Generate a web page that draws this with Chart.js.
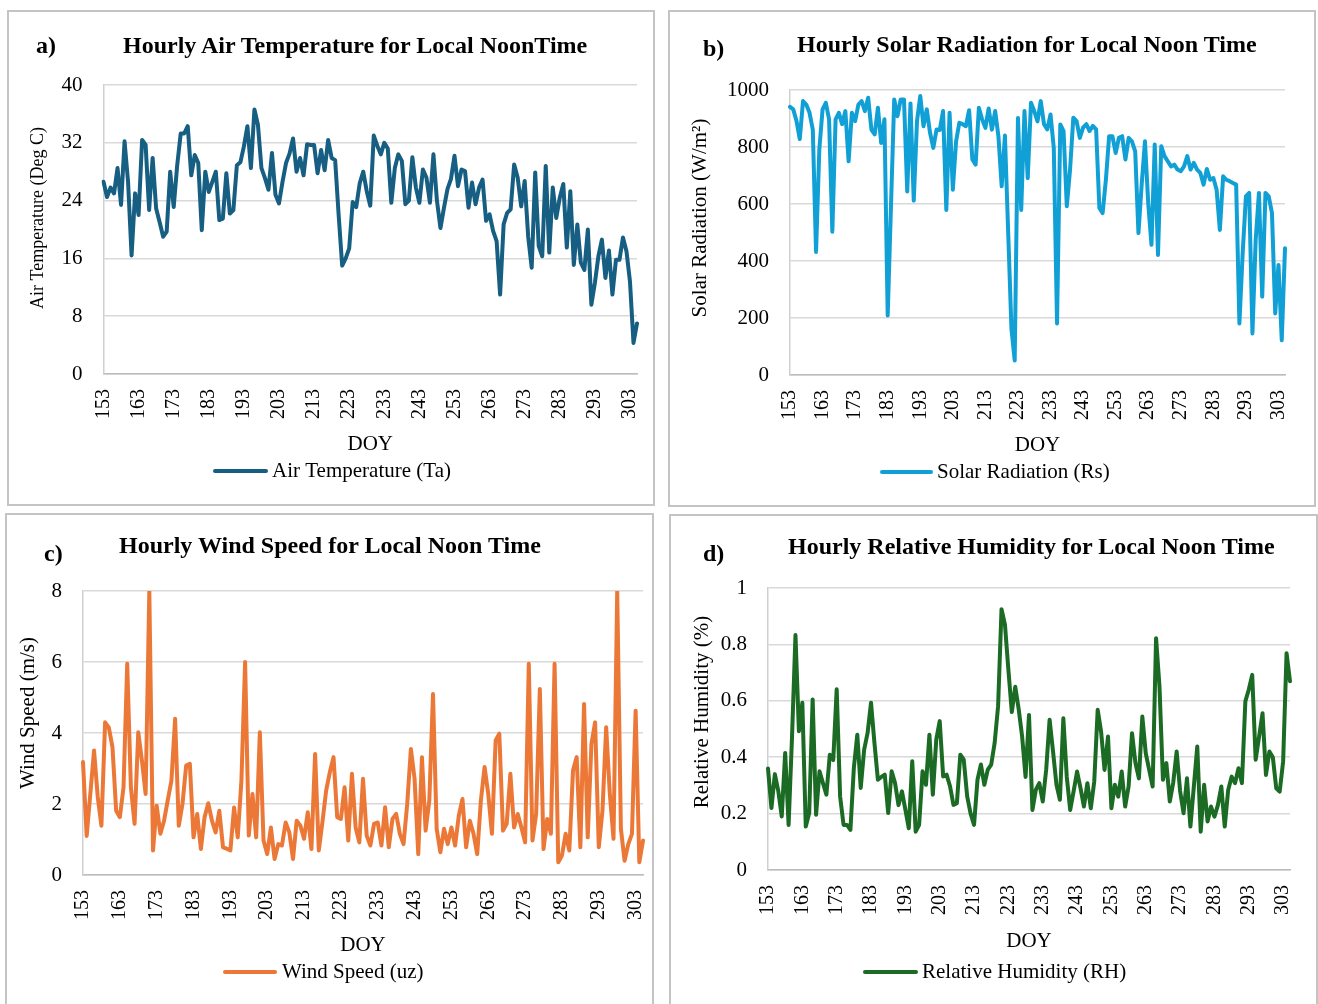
<!DOCTYPE html>
<html>
<head>
<meta charset="utf-8">
<title>Hourly weather at local noon, DOY 153–305</title>
<script src="https://cdn.jsdelivr.net/npm/chart.js@4.4.1/dist/chart.umd.min.js"></script>
<style>
  html, body { margin: 0; padding: 0; background: #ffffff; width: 1318px; height: 1004px; overflow: hidden; }
  .frame { position: absolute; box-sizing: border-box; border: 2px solid #c4c4c4; }
  .plot { position: absolute; }
  .head { position: absolute; font-family: "Liberation Serif", "Times New Roman", serif; font-weight: bold;
          font-size: 24px; line-height: 24px; white-space: nowrap; color: #000; }
</style>
</head>
<body>
<script>
// Day of year, one noon reading per day
const doy = Array.from({ length: 153 }, (_, i) => 153 + i);

// Air temperature (deg C)
const airTemp = [
  26.6, 24.5, 25.8, 25.0, 28.5, 23.4, 32.2, 26.6, 16.4, 25.0,
  22.0, 32.4, 31.7, 22.7, 29.9, 22.9, 21.0, 19.0, 19.7, 28.0,
  23.1, 28.9, 33.3, 33.3, 34.3, 27.5, 30.3, 29.2, 19.9, 28.0,
  25.2, 26.6, 28.0, 21.3, 21.5, 27.8, 22.2, 22.7, 28.9, 29.3,
  31.5, 34.3, 28.5, 36.6, 34.5, 28.5, 27.1, 25.5, 30.6, 24.8,
  23.6, 26.6, 29.2, 30.5, 32.6, 28.0, 29.9, 27.5, 31.8, 31.7,
  31.7, 27.8, 31.0, 28.2, 32.4, 29.9, 29.6, 22.0, 15.0, 16.0,
  17.4, 23.8, 23.1, 26.4, 28.0, 25.3, 23.3, 33.0, 31.6, 30.4,
  32.0, 31.2, 23.7, 28.5, 30.4, 29.5, 23.5, 24.0, 30.0, 25.8,
  23.7, 28.3, 27.2, 23.7, 30.4, 24.0, 20.2, 23.0, 25.6, 27.0,
  30.2, 26.0, 28.3, 28.1, 23.0, 26.5, 23.5, 25.8, 26.9, 21.2,
  22.1, 19.8, 18.4, 11.0, 20.7, 22.3, 22.8, 29.0, 27.2, 23.2,
  26.7, 19.0, 14.7, 27.9, 17.7, 16.3, 28.8, 16.8, 25.8, 21.6,
  24.4, 26.3, 17.5, 25.3, 15.1, 20.7, 15.4, 14.4, 20.0, 9.6,
  12.6, 16.3, 18.6, 13.3, 17.1, 11.0, 15.8, 15.8, 18.9, 17.0,
  12.8, 4.3, 7.0
];

// Solar radiation (W/m2)
const solarRad = [
  941, 932, 891, 828, 961, 949, 920, 861, 432, 791,
  932, 955, 897, 503, 897, 920, 880, 926, 750, 920,
  891, 949, 961, 926, 973, 861, 844, 938, 814, 897,
  209, 590, 967, 908, 967, 967, 644, 953, 612, 891,
  979, 873, 932, 850, 797, 861, 860, 926, 579, 920,
  650, 820, 885, 880, 873, 929, 756, 738, 938, 897,
  867, 935, 861, 926, 838, 662, 840, 500, 162, 51,
  902, 579, 926, 691, 955, 926, 890, 961, 880, 862,
  914, 797, 181, 879, 856, 592, 721, 903, 891, 832,
  868, 880, 856, 874, 862, 586, 568, 685, 838, 838,
  779, 832, 838, 756, 832, 820, 785, 498, 670, 820,
  603, 457, 809, 421, 803, 768, 750, 732, 738, 721,
  715, 732, 768, 721, 744, 721, 709, 668, 723, 685,
  691, 650, 509, 697, 685, 680, 674, 668, 181, 427,
  627, 639, 146, 474, 639, 275, 639, 627, 568, 216,
  386, 122, 445
];

// Wind speed (m/s)
const windSpeed = [
  3.18, 1.10, 2.30, 3.51, 2.20, 1.39, 4.30, 4.16, 3.60, 1.81,
  1.63, 2.47, 5.95, 2.47, 1.44, 4.02, 3.22, 2.28, 8.00, 0.69,
  1.95, 1.16, 1.53, 2.10, 2.66, 4.40, 1.39, 2.00, 3.08, 3.13,
  1.06, 1.72, 0.73, 1.63, 2.02, 1.53, 1.20, 1.81, 0.78, 0.74,
  0.69, 1.90, 1.06, 2.66, 6.00, 1.11, 2.28, 1.06, 4.02, 0.97,
  0.59, 1.34, 0.45, 0.87, 0.83, 1.48, 1.20, 0.45, 1.53, 1.39,
  1.02, 1.77, 0.73, 3.41, 0.69, 1.50, 2.38, 2.90, 3.32, 1.63,
  1.58, 2.47, 0.97, 2.85, 1.34, 0.92, 2.71, 1.11, 0.83, 1.44,
  1.48, 0.83, 1.91, 0.78, 1.58, 1.72, 1.16, 0.87, 2.00, 3.55,
  2.71, 0.59, 3.32, 1.25, 2.10, 5.10, 1.30, 0.64, 1.30, 0.87,
  1.34, 0.83, 1.67, 2.14, 0.78, 1.53, 1.16, 0.59, 2.10, 3.04,
  2.28, 1.16, 3.79, 3.98, 1.25, 1.44, 2.85, 1.34, 1.72, 1.34,
  0.92, 5.95, 0.97, 1.72, 5.24, 0.73, 1.58, 1.16, 5.95, 0.36,
  0.55, 1.16, 0.69, 2.94, 3.32, 0.78, 4.82, 1.06, 3.69, 4.30,
  0.78, 1.81, 4.16, 2.28, 1.02, 8.00, 1.30, 0.40, 0.87, 1.16,
  4.63, 0.36, 0.97
];

// Relative humidity (fraction)
const relHumidity = [
  0.360, 0.220, 0.340, 0.280, 0.190, 0.415, 0.160, 0.474, 0.833, 0.492,
  0.593, 0.154, 0.202, 0.605, 0.196, 0.350, 0.308, 0.267, 0.409, 0.390,
  0.641, 0.261, 0.160, 0.160, 0.142, 0.362, 0.480, 0.291, 0.427, 0.486,
  0.593, 0.450, 0.320, 0.330, 0.338, 0.202, 0.350, 0.308, 0.230, 0.279,
  0.214, 0.148, 0.386, 0.136, 0.160, 0.350, 0.302, 0.480, 0.267, 0.463,
  0.528, 0.332, 0.338, 0.297, 0.231, 0.237, 0.409, 0.391, 0.261, 0.200,
  0.160, 0.320, 0.374, 0.302, 0.356, 0.374, 0.451, 0.581, 0.925, 0.870,
  0.710, 0.560, 0.650, 0.570, 0.473, 0.330, 0.550, 0.213, 0.285, 0.308,
  0.243, 0.355, 0.533, 0.420, 0.302, 0.249, 0.538, 0.330, 0.213, 0.280,
  0.349, 0.290, 0.225, 0.308, 0.219, 0.314, 0.568, 0.490, 0.355, 0.473,
  0.219, 0.302, 0.260, 0.349, 0.225, 0.296, 0.485, 0.379, 0.325, 0.544,
  0.414, 0.355, 0.296, 0.822, 0.650, 0.320, 0.379, 0.243, 0.310, 0.420,
  0.280, 0.201, 0.325, 0.154, 0.296, 0.438, 0.136, 0.302, 0.172, 0.225,
  0.189, 0.230, 0.296, 0.154, 0.284, 0.331, 0.308, 0.361, 0.308, 0.598,
  0.640, 0.692, 0.391, 0.473, 0.556, 0.337, 0.420, 0.400, 0.290, 0.278,
  0.385, 0.769, 0.669
];

// Value-axis tick labels
const tempTicks = [0, 8, 16, 24, 32, 40];
const solarTicks = [0, 200, 400, 600, 800, 1000];
const windTicks = [0, 2, 4, 6, 8];
const humidityTicks = [0, 0.2, 0.4, 0.6, 0.8, 1];

const SERIF = '"Liberation Serif", "Times New Roman", serif';

// Vertical axis title and the line-swatch legend, placed in page coordinates
const panelText = {
  id: 'panelText',
  afterDraw(chart, args, o) {
    const ctx = chart.ctx;
    const ds = chart.data.datasets[0];
    ctx.save();
    ctx.translate(-o.ox, -o.oy);

    ctx.save();
    ctx.translate(o.yTitleX, o.yTitleY);
    ctx.rotate(-Math.PI / 2);
    ctx.fillStyle = '#000';
    ctx.font = o.yTitleSize + 'px ' + SERIF;
    ctx.textAlign = 'center';
    ctx.textBaseline = 'middle';
    ctx.fillText(o.yTitle, 0, 0);
    ctx.restore();

    ctx.strokeStyle = ds.borderColor;
    ctx.lineWidth = 4;
    ctx.lineCap = 'round';
    ctx.beginPath();
    ctx.moveTo(o.lineX0, o.legendY);
    ctx.lineTo(o.lineX1, o.legendY);
    ctx.stroke();

    ctx.fillStyle = '#000';
    ctx.font = '21px ' + SERIF;
    ctx.textAlign = 'left';
    ctx.textBaseline = 'middle';
    ctx.fillText(ds.label, o.textX, o.legendY);
    ctx.restore();
  }
};

function addFrame(x0, y0, x1, y1) {
  const d = document.createElement('div');
  d.className = 'frame';
  Object.assign(d.style, { left: x0 + 'px', top: y0 + 'px', width: (x1 - x0) + 'px', height: (y1 - y0) + 'px' });
  document.body.appendChild(d);
}

function addHead(text, x, baseline) {
  const d = document.createElement('div');
  d.className = 'head';
  d.textContent = text;
  d.style.left = x + 'px';
  d.style.top = (baseline - 20) + 'px';
  document.body.appendChild(d);
}

function addPanel(p) {
  const cv = document.createElement('canvas');
  cv.className = 'plot';
  const [cx0, cy0, cx1, cy1] = p.canvas;
  const w = cx1 - cx0, h = cy1 - cy0;
  cv.width = w; cv.height = h;
  Object.assign(cv.style, { left: cx0 + 'px', top: cy0 + 'px', width: w + 'px', height: h + 'px' });
  document.body.appendChild(cv);

  const [pl, pt, pr, pb] = p.area;
  const xAxisH = p.doyY + 12.6 - pb;

  new Chart(cv, {
    type: 'line',
    data: {
      labels: doy,
      datasets: [{
        label: p.label,
        data: p.values,
        borderColor: p.color,
        backgroundColor: p.color,
        borderWidth: 4,
        pointRadius: 0,
        tension: 0,
        borderJoinStyle: 'round',
        borderCapStyle: 'round'
      }]
    },
    options: {
      responsive: false,
      animation: false,
      devicePixelRatio: 1,
      layout: {
        padding: { left: 0, top: pt - cy0, right: cx1 - pr, bottom: cy1 - (pb + xAxisH) }
      },
      plugins: {
        legend: { display: false },
        tooltip: { enabled: false },
        panelText: Object.assign({ ox: cx0, oy: cy0 }, p.text)
      },
      scales: {
        x: {
          type: 'category',
          offset: false,
          grid: { display: false, drawTicks: false },
          border: { display: true, color: '#bcbcbc', width: 1.5 },
          ticks: {
            autoSkip: false,
            minRotation: 90,
            maxRotation: 90,
            padding: 15,
            color: '#000',
            font: { family: SERIF, size: 20 },
            callback: function (v, i) { return (doy[i] - doy[0]) % 10 === 0 ? String(doy[i]) : ''; }
          },
          title: {
            display: true, text: 'DOY', color: '#000',
            font: { family: SERIF, size: 21, lineHeight: 1.2 },
            padding: { top: 0, bottom: 0 }
          },
          afterFit: s => { s.height = xAxisH; }
        },
        y: {
          min: p.ticks[0],
          max: p.ticks[p.ticks.length - 1],
          afterBuildTicks: s => { s.ticks = p.ticks.map(v => ({ value: v })); },
          grid: { color: '#d9d9d9', lineWidth: 1.5, drawTicks: false },
          border: { display: true, color: '#d0d0d0', width: 1.5 },
          ticks: {
            padding: 21,
            color: '#000',
            font: { family: SERIF, size: 21 },
            callback: v => String(v)
          },
          afterFit: s => { s.width = pl - cx0; }
        }
      }
    },
    plugins: [panelText]
  });
}

// a) air temperature
addFrame(7, 10, 655, 506);
addPanel({
  canvas: [20, 10, 678, 506], area: [103.5, 85, 637, 374], doyY: 444,
  values: airTemp, ticks: tempTicks, color: '#165e82', label: 'Air Temperature (Ta)',
  text: { yTitle: 'Air Temperature (Deg C)', yTitleSize: 18, yTitleX: 38, yTitleY: 218,
          lineX0: 215, lineX1: 266, textX: 272, legendY: 471 }
});
addHead('a)', 36, 53);
addHead('Hourly Air Temperature for Local NoonTime', 123, 53);

// b) solar radiation
addFrame(668, 10, 1316, 507);
addPanel({
  canvas: [680, 10, 1326, 507], area: [790, 90, 1285, 375], doyY: 445,
  values: solarRad, ticks: solarTicks, color: '#10a0d6', label: 'Solar Radiation (Rs)',
  text: { yTitle: 'Solar Radiation (W/m²)', yTitleSize: 21, yTitleX: 700, yTitleY: 218,
          lineX0: 882, lineX1: 931, textX: 937, legendY: 472 }
});
addHead('b)', 703, 56);
addHead('Hourly Solar Radiation for Local Noon Time', 797, 52);

// c) wind speed
addFrame(5, 513, 654, 1010);
addPanel({
  canvas: [8, 513, 684, 1004], area: [83, 591, 643, 875], doyY: 945,
  values: windSpeed, ticks: windTicks, color: '#eb7837', label: 'Wind Speed (uz)',
  text: { yTitle: 'Wind Speed (m/s)', yTitleSize: 21, yTitleX: 28, yTitleY: 713,
          lineX0: 225, lineX1: 275, textX: 282, legendY: 972 }
});
addHead('c)', 44, 561);
addHead('Hourly Wind Speed for Local Noon Time', 119, 553);

// d) relative humidity
addFrame(669, 514, 1318, 1010);
addPanel({
  canvas: [684, 514, 1331, 1004], area: [768, 588, 1290, 870], doyY: 941,
  values: relHumidity, ticks: humidityTicks, color: '#1b6b24', label: 'Relative Humidity (RH)',
  text: { yTitle: 'Relative Humidity (%)', yTitleSize: 21, yTitleX: 702, yTitleY: 712,
          lineX0: 865, lineX1: 916, textX: 922, legendY: 972 }
});
addHead('d)', 703, 561);
addHead('Hourly Relative Humidity for Local Noon Time', 788, 554);
</script>
</body>
</html>
